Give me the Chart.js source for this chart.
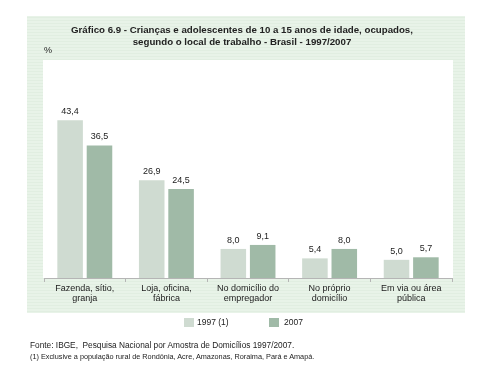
<!DOCTYPE html>
<html><head><meta charset="utf-8">
<script src="https://cdn.jsdelivr.net/npm/chart.js@4/dist/chart.umd.min.js"></script>
<style>
html,body{margin:0;padding:0;background:#fff;}
#wrap{position:relative;width:491px;height:378px;font-family:"Liberation Sans",Arial,sans-serif;color:#222;}
#c{position:absolute;left:0;top:0;}
.t{position:absolute;white-space:nowrap;}
.lg{position:absolute;width:10px;height:9px;}
#title{position:absolute;left:42px;width:400px;top:24px;text-align:center;font-size:9.7px;font-weight:bold;line-height:12px;white-space:nowrap;}
</style></head>
<body><div id="wrap"><canvas id="c" width="491" height="378"></canvas>
<div id="title">Gráfico 6.9 - Crianças e adolescentes de 10 a 15 anos de idade, ocupados,<br>segundo o local de trabalho - Brasil - 1997/2007</div>
<div class="t" style="left:44px;top:45px;font-size:9px;">%</div>
<div id="legend"></div>
<div class="t" style="left:30px;top:340px;font-size:8.3px;">Fonte: IBGE,&nbsp; Pesquisa Nacional por Amostra de Domicílios 1997/2007.</div>
<div class="t" style="left:30px;top:352px;font-size:7.3px;">(1) Exclusive a população rural de Rondônia, Acre, Amazonas, Roraima, Pará e Amapá.</div>
</div>
<script>
const categories = [["Fazenda, sítio,","granja"],["Loja, oficina,","fábrica"],["No domicílio do","empregador"],["No próprio","domicílio"],["Em via ou área","pública"]];
const seriesNames = ["1997 (1)","2007"];
const values1997 = [43.4, 26.9, 8.0, 5.4, 5.0];
const values2007 = [36.5, 24.5, 9.1, 8.0, 5.7];
const colors = ["#cfdbd1", "#a0baa7"];

// HTML legend from series names
const lgPos = [[184,197],[269,284]];
const lg = document.getElementById('legend');
seriesNames.forEach((n,i)=>{
  const b=document.createElement('div');b.className='lg';b.style.left=lgPos[i][0]+'px';b.style.top='318px';b.style.background=colors[i];lg.appendChild(b);
  const t=document.createElement('div');t.className='t';t.style.left=lgPos[i][1]+'px';t.style.top='317px';t.style.fontSize='8.5px';t.textContent=n;lg.appendChild(t);
});

const panelPlugin = {
  id:'panel',
  beforeDraw(chart){
    const ctx=chart.ctx, a=chart.chartArea;
    ctx.save();
    ctx.fillStyle='#e8f3e8';
    ctx.fillRect(27,16,438,297);
    ctx.fillStyle='rgba(205,225,205,0.25)';
    for(let y=17;y<313;y+=3){ctx.fillRect(27,y,438,1);}
    ctx.fillStyle='#ffffff';
    ctx.fillRect(43,a.top,410,a.bottom-a.top);
    ctx.restore();
  }
};
const labelPlugin = {
  id:'vlabels',
  afterDatasetsDraw(chart){
    const ctx=chart.ctx;
    ctx.save();
    ctx.font='9px "Liberation Sans", Arial, sans-serif';
    ctx.fillStyle='#222';
    ctx.textAlign='center';ctx.textBaseline='bottom';
    chart.data.datasets.forEach((ds,di)=>{
      chart.getDatasetMeta(di).data.forEach((bar,i)=>{
        ctx.fillText(ds.data[i].toFixed(1).replace('.',','), bar.x, bar.y-4);
      });
    });
    ctx.restore();
  }
};

new Chart(document.getElementById('c'),{
  type:'bar',
  data:{labels:categories,datasets:[
    {label:seriesNames[0],data:values1997,backgroundColor:colors[0]},
    {label:seriesNames[1],data:values2007,backgroundColor:colors[1]}
  ]},
  options:{
    responsive:false,animation:false,devicePixelRatio:1,
    layout:{padding:{top:60,left:44,right:39,bottom:65}},
    datasets:{bar:{barPercentage:0.87,categoryPercentage:0.72}},
    plugins:{
      legend:{display:false},
      tooltip:{enabled:false},
      title:{display:false}
    },
    scales:{
      y:{display:false,min:0,max:60},
      x:{
        grid:{display:true,drawOnChartArea:false,tickLength:4,color:'#b5b5b5',offset:true},
        border:{display:true,color:'#b5b5b5',width:1},
        ticks:{color:'#222',font:{family:'"Liberation Sans", Arial, sans-serif',size:9,lineHeight:1.15},padding:1,maxRotation:0,autoSkip:false},
        afterFit(s){s.height=35;}
      }
    }
  },
  plugins:[panelPlugin,labelPlugin]
});
</script></body></html>
